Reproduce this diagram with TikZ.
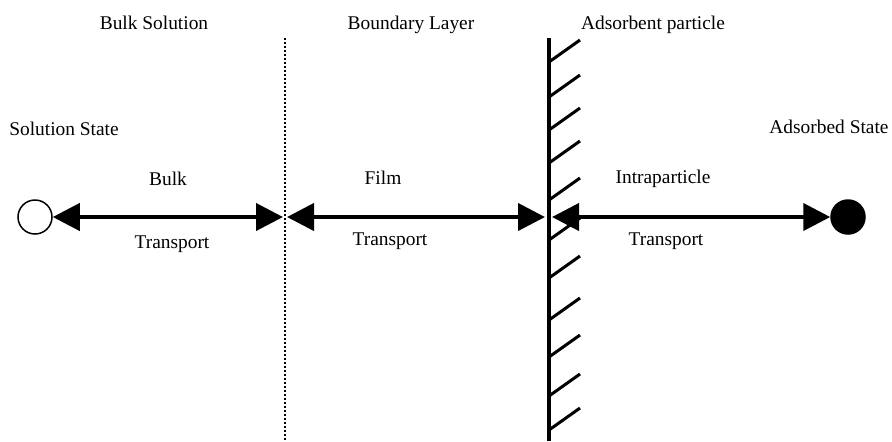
\documentclass[tikz,border=0pt]{standalone}
\usepackage{fontspec}
\setmainfont{Liberation Serif}
\usetikzlibrary{arrows.meta}
\tikzset{
    label text/.style={
        anchor=base,
        inner sep=0pt,
        font=\fontsize{9.7}{12}\selectfont
    },
    state/.style={
        circle,
        draw,
        line width=0.75pt,
        minimum size=17pt,
        inner sep=0pt
    },
    twoway/.style={
        line width=2pt,
        {Triangle[length=13.5pt, width=13.5pt]}-{Triangle[length=13.5pt, width=13.5pt]}
    },
    hatch/.style={
        line width=1.5pt
    }
}

\begin{document}
\begin{tikzpicture}[x=0.5pt, y=-0.5pt]
    \useasboundingbox (0, 0) rectangle (892, 441);

    % region titles
    \node [label text] (bulksol) at (154, 29) {Bulk Solution};
    \node [label text] (boundary) at (411, 29) {Boundary Layer};
    \node [label text] (particle) at (653, 29) {Adsorbent particle};

    % states
    \node [label text] (soltext) at (64, 135) {Solution State};
    \node [label text] (adstext) at (829, 133) {Adsorbed State};
    \node [state] (solution) at (35, 217) {};
    \node [state, fill=black] (adsorbed) at (848, 217) {};

    % dotted boundary and particle wall
    \coordinate (layer top) at (285, 38);
    \coordinate (layer bottom) at (285, 441);
    \draw [line width=0.75pt, dash pattern=on 1pt off 1pt] (layer top) -- (layer bottom);
    \coordinate (wall top) at (549, 38);
    \coordinate (wall bottom) at (549, 441);
    \draw [line width=2pt] (wall top) -- (wall bottom);
    \foreach \y in {62, 97, 130, 163, 200, 240, 278, 320, 357, 396, 430} {
        \draw [hatch] (549, \y) -- (580, \y - 22);
    }

    % transport steps
    \coordinate (bulk end) at (283, 217);
    \coordinate (film start) at (287, 217);
    \coordinate (film end) at (545, 217);
    \coordinate (intra start) at (552, 217);
    \draw [twoway] (solution) -- (bulk end);
    \draw [twoway] (film start) -- (film end);
    \draw [twoway] (intra start) -- (adsorbed);

    \node [label text] (bulk) at (168, 185) {Bulk};
    \node [label text] (bulktr) at (172, 248) {Transport};
    \node [label text] (film) at (383, 184) {Film};
    \node [label text] (filmtr) at (390, 245) {Transport};
    \node [label text] (intra) at (663, 183) {Intraparticle};
    \node [label text] (intratr) at (666, 245) {Transport};
\end{tikzpicture}
\end{document}
